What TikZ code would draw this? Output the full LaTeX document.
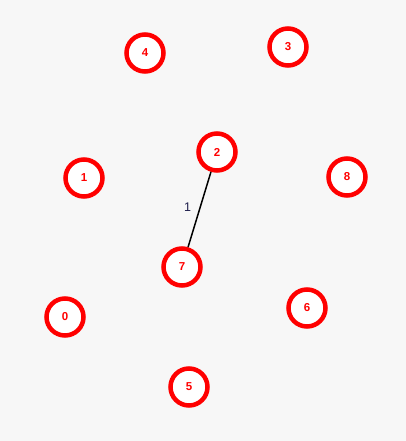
\documentclass[tikz,border=0pt]{standalone}
\usepackage{fontspec}
\setmainfont{Liberation Sans}
\definecolor{labelnavy}{RGB}{30,30,75}
\begin{document}
\begin{tikzpicture}[x=1pt,y=-1pt,
  vnode/.style={circle,draw=red,fill=white,line width=4.5pt,minimum size=37pt,inner sep=0pt,text=red,font=\fontsize{11.5}{12}\selectfont\bfseries},
  edge/.style={draw=black,line width=1.5pt},
  elabel/.style={text=labelnavy,font=\fontsize{12.5}{14}\selectfont}]
\fill[black!3] (0,0) rectangle (406,441);
\useasboundingbox (0,0) rectangle (406,441);
\node[vnode] (n4) at (145,53) {4};
\node[vnode] (n3) at (288,47) {3};
\node[vnode] (n2) at (217,152) {2};
\node[vnode] (n1) at (84,178) {1};
\node[vnode] (n8) at (347,177) {8};
\node[vnode] (n7) at (182,267) {7};
\node[vnode] (n6) at (307,308) {6};
\node[vnode] (n0) at (65,317) {0};
\node[vnode] (n5) at (189,387) {5};
\draw[edge] (n2) -- node[elabel,left=5pt,pos=0.47] {1} (n7);
\end{tikzpicture}
\end{document}
